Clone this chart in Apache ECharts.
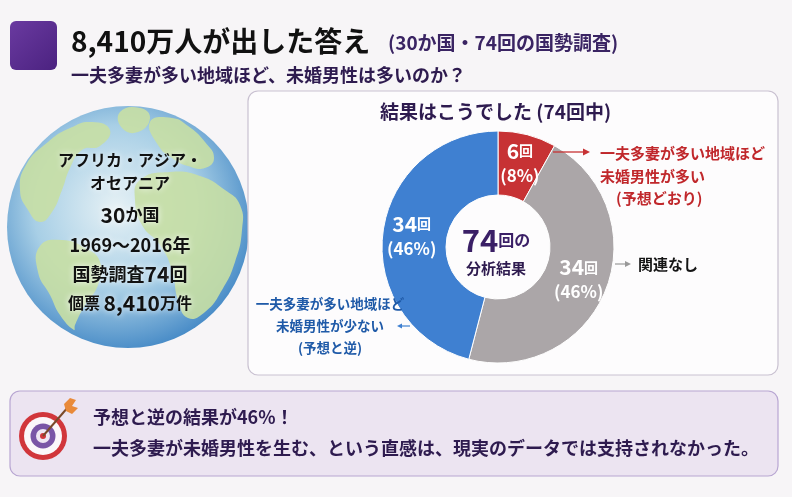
<!DOCTYPE html>
<html>
<head>
<meta charset="utf-8">
<script src="https://cdn.jsdelivr.net/npm/echarts@6/dist/echarts.min.js"></script>
<style>
  html, body { margin: 0; padding: 0; background: #f7f5f7; }
  #main { width: 792px; height: 497px; }
</style>
</head>
<body>
<div id="main"></div>
<script type="text/javascript">
// 74回の国勢調査の分析結果
var categories = ['一夫多妻が多い地域ほど未婚男性が多い（予想どおり）', '関連なし', '一夫多妻が多い地域ほど未婚男性が少ない（予想と逆）'];
var counts = [6, 34, 34];
var percents = [8, 46, 46];
var sliceColors = ['#c73234', '#aba6a8', '#3f80d1'];
var totalCount = 74;

var FONT = 'Noto Sans CJK JP';
var NAVY = '#2e1b4f';

var myChart = echarts.init(document.getElementById('main'));

function txt(x, y, text, size, color, extra) {
    var s = {
        text: text, x: x, y: y, fill: color,
        font: 'bold ' + size + 'px "' + FONT + '"',
        textAlign: 'left', textVerticalAlign: 'middle'
    };
    for (var k in extra) s[k] = extra[k];
    return { type: 'text', z: 10, style: s };
}

// 地球の上の文字（白いぼかし付き）
function gtxt(y, text, size, rich) {
    return {
        type: 'text', z: 10,
        style: {
            text: text, x: 130, y: y, fill: '#111',
            font: 'bold ' + size + 'px "' + FONT + '"',
            textAlign: 'center', textVerticalAlign: 'middle',
            rich: rich,
            textShadowColor: '#fff', textShadowBlur: 6
        }
    };
}
function rs(size) {
    return { font: 'bold ' + size + 'px "' + FONT + '"', fill: '#111' };
}

var land = '#c8dfa4';
var continents = [
    [[48,142],[70,128],[92,122],[110,130],[100,146],[82,150],[70,168],[62,190],[52,212],[40,222],[28,210],[20,190],[26,165]],
    [[120,112],[140,108],[150,118],[138,132],[122,128]],
    [[150,122],[172,118],[188,126],[205,142],[214,158],[205,168],[188,166],[172,158],[158,145]],
    [[140,180],[170,172],[200,176],[225,190],[240,205],[242,230],[235,262],[222,290],[205,312],[188,318],[178,300],[172,270],[160,245],[142,225],[135,200]],
    [[40,246],[62,240],[85,248],[100,262],[98,285],[85,305],[75,325],[74,330],[60,315],[50,295],[38,272]]
];

var graphics = [
    // タイトル
    { type: 'rect', z: 1, shape: { x: 10, y: 21, width: 47, height: 49, r: 6 },
      style: { fill: { type: 'linear', x: 0, y: 0, x2: 1, y2: 1, colorStops: [
          { offset: 0, color: '#6a3aa0' }, { offset: 1, color: '#4b2280' }] } } },
    txt(71, 41, '8,410万人が出した答え', 28, '#111'),
    txt(388, 43, '(30か国・74回の国勢調査)', 19, '#3a2463'),
    txt(71, 75, '一夫多妻が多い地域ほど、未婚男性は多いのか？', 18, NAVY),

    // 地球
    { type: 'circle', z: 1, shape: { cx: 128, cy: 227, r: 121 },
      style: { fill: { type: 'radial', x: 0.45, y: 0.42, r: 0.62, colorStops: [
          { offset: 0, color: '#e6f1f5' }, { offset: 0.55, color: '#a8cfe6' }, { offset: 1, color: '#3f85c4' }] } } }
];
continents.forEach(function (pts) {
    graphics.push({ type: 'polygon', z: 2, shape: { points: pts, smooth: 0.5 },
        style: { fill: land, opacity: 0.9 } });
});
graphics = graphics.concat([
    gtxt(160, 'アフリカ・アジア・', 16),
    gtxt(183, 'オセアニア', 16),
    gtxt(215, '{b|30}{s|か国}', 16, { b: rs(21), s: rs(17) }),
    gtxt(245, '1969～2016年', 18),
    gtxt(274, '{s|国勢調査}{b|74}{s|回}', 18, { b: rs(21), s: rs(18) }),
    gtxt(303, '{s|個票 }{b|8,410}{s|万件}', 16, { b: rs(21), s: rs(16) }),

    // 結果パネル
    { type: 'rect', z: 3, shape: { x: 248, y: 91, width: 530, height: 284, r: 10 },
      style: { fill: '#fdfcfd', stroke: '#c9c1d1', lineWidth: 1.2 } },
    txt(380, 112, '結果はこうでした (74回中)', 19, NAVY),

    // 予想どおり
    { type: 'line', z: 10, shape: { x1: 553, y1: 152, x2: 585, y2: 152 }, style: { stroke: '#c73234', lineWidth: 1.3 } },
    { type: 'polygon', z: 10, shape: { points: [[590,152],[583,148.5],[583,155.5]] }, style: { fill: '#c73234' } },
    txt(600, 153, '一夫多妻が多い地域ほど', 15, '#c0272b'),
    txt(600, 176, '未婚男性が多い', 15, '#c0272b'),
    txt(616, 198, '(予想どおり)', 15, '#c0272b'),

    // 関連なし
    { type: 'line', z: 10, shape: { x1: 615, y1: 264, x2: 627, y2: 264 }, style: { stroke: '#999', lineWidth: 1.2 } },
    { type: 'polygon', z: 10, shape: { points: [[631,264],[625,261],[625,267]] }, style: { fill: '#999' } },
    txt(638, 264, '関連なし', 15, '#151515'),

    // 予想と逆
    txt(330, 304, '一夫多妻が多い地域ほど', 13.5, '#1f5aa8', { textAlign: 'center' }),
    txt(330, 326, '未婚男性が少ない', 13.5, '#1f5aa8', { textAlign: 'center' }),
    { type: 'line', z: 10, shape: { x1: 400, y1: 326, x2: 410, y2: 326 }, style: { stroke: '#3f80d1', lineWidth: 1.2 } },
    { type: 'polygon', z: 10, shape: { points: [[397,326],[402,323.5],[402,328.5]] }, style: { fill: '#3f80d1' } },
    txt(330, 348, '(予想と逆)', 13.5, '#1f5aa8', { textAlign: 'center' }),

    // ドーナツ中央
    { type: 'text', z: 10, style: {
        text: '{a|' + totalCount + '}{b|回の}\n{c|分析結果}', x: 496, y: 253,
        textAlign: 'center', textVerticalAlign: 'middle', fill: '#3a1f66',
        rich: {
            a: { font: 'bold 31px "' + FONT + '"', fill: '#3a1f66', lineHeight: 30 },
            b: { font: 'bold 16px "' + FONT + '"', fill: '#3a1f66', lineHeight: 30 },
            c: { font: 'bold 15px "' + FONT + '"', fill: '#2e1b4f', lineHeight: 26 }
        } } },

    // 下のまとめ
    { type: 'rect', z: 3, shape: { x: 10, y: 391, width: 768, height: 85, r: 10 },
      style: { fill: '#ece4f1', stroke: '#b8a6d2', lineWidth: 1.2 } },
    { type: 'circle', z: 4, shape: { cx: 43, cy: 436, r: 24 }, style: { fill: '#d1363b' } },
    { type: 'circle', z: 4, shape: { cx: 43, cy: 436, r: 19 }, style: { fill: '#fbf7fa' } },
    { type: 'circle', z: 4, shape: { cx: 43, cy: 436, r: 12.5 }, style: { fill: '#7a55a6' } },
    { type: 'circle', z: 4, shape: { cx: 43, cy: 436, r: 7 }, style: { fill: '#efe6f3' } },
    { type: 'circle', z: 4, shape: { cx: 43, cy: 436, r: 3 }, style: { fill: '#d1363b' } },
    { type: 'line', z: 5, shape: { x1: 43, y1: 436, x2: 69, y2: 406 }, style: { stroke: '#7a4a2a', lineWidth: 2 } },
    { type: 'polygon', z: 5, shape: { points: [[64,404],[70,398],[76,400],[72,406],[78,408],[72,414],[66,411]] }, style: { fill: '#e98a3a' } },
    txt(93, 417, '予想と逆の結果が46%！', 18, NAVY),
    txt(93, 448, '一夫多妻が未婚男性を生む、という直感は、現実のデータでは支持されなかった。', 18, NAVY)
]);

var option = {
    backgroundColor: '#f7f5f7',
    animation: false,
    textStyle: { fontFamily: FONT },
    graphic: { elements: graphics },
    series: [{
        name: '分析結果',
        type: 'pie',
        z: 5,
        center: [498, 247],
        radius: [52, 116],
        startAngle: 90,
        clockwise: true,
        avoidLabelOverlap: false,
        itemStyle: { borderColor: '#ffffff', borderWidth: 1 },
        label: {
            show: true,
            position: 'inside',
            color: '#fff',
            formatter: function (p) {
                return '{n|' + counts[p.dataIndex] + '}{u|回}\n{p|(' + percents[p.dataIndex] + '%)}';
            },
            rich: {
                n: { fontSize: 21, fontWeight: 'bold', color: '#fff', fontFamily: FONT, lineHeight: 25 },
                u: { fontSize: 14, fontWeight: 'bold', color: '#fff', fontFamily: FONT, lineHeight: 25 },
                p: { fontSize: 17, fontWeight: 'bold', color: '#fff', fontFamily: FONT, lineHeight: 24 }
            }
        },
        labelLine: { show: false },
        emphasis: { disabled: true },
        data: categories.map(function (c, i) {
            return { name: c, value: counts[i], itemStyle: { color: sliceColors[i] } };
        })
    }]
};
myChart.setOption(option);
</script>
</body>
</html>
